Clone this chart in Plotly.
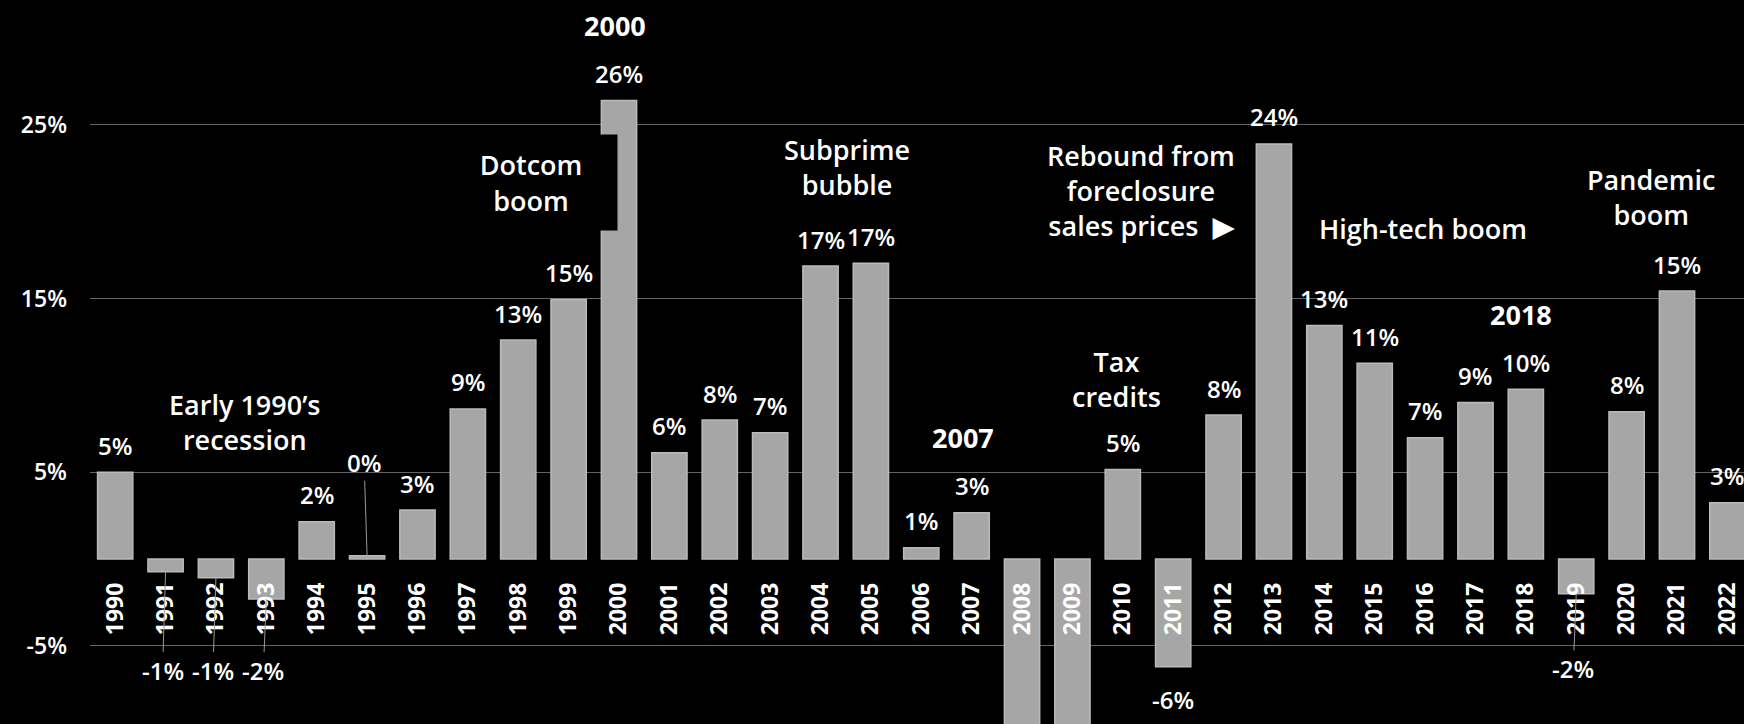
import plotly.graph_objects as go

# Annual change in median home price, percent
years = list(range(1990, 2023))
change_pct = [5.0, -0.73, -1.08, -2.3, 2.15, 0.19, 2.82, 8.64, 12.61, 14.95,
              26.4, 6.12, 8.0, 7.27, 16.87, 17.03, 0.65, 2.67, -15.0, -19.0,
              5.16, -6.2, 8.29, 23.9, 13.45, 11.27, 6.99, 9.02, 9.77, -2.0,
              8.48, 15.43, 3.24]
year_labels = [str(y) for y in years]
y_tick_vals = [-5, 5, 15, 25]
y_tick_text = ["-5%", "5%", "15%", "25%"]

# Period notes: text, x (year), y (percent)
event_notes = [
    ("Early 1990\u2019s<br>recession", 1992.58, 7.89),
    ("Subprime<br>bubble", 2004.53, 22.59),
    ("Tax<br>credits", 2009.88, 10.37),
    ("Rebound from<br>foreclosure<br>sales prices\u00a0\u00a0\u25B6", 2010.36, 21.22),
    ("High-tech boom", 2015.95, 19.04),
    ("Pandemic<br>boom", 2020.49, 20.82),
]
dotcom_note = ("Dotcom<br>boom", 1998.256, 21.68)
titled_years = [2000, 2007, 2018]
title_xshift = {2000: -4, 2007: -9, 2018: -5}

# Value labels moved away from their bars, joined by a leader line
leader_label_y = {1991: -6.4, 1992: -6.4, 1993: -6.4, 2019: -6.3}
leader_label_px = {1995: (-3, -93)}

FONT = "Open Sans"
WHITE = "#ffffff"
BAR_FILL = "#a6a6a6"
BAR_EDGE = "#bababa"
GRID = "#646464"
LEADER = "#9a9a9a"

y_range = [-9.5, 32.19]
x_range = [1989.5, 2022.33]
axis_pos = (0 - y_range[0]) / (y_range[1] - y_range[0])

fig = go.Figure()
fig.add_trace(go.Bar(
    x=years, y=change_pct, width=0.7,
    marker=dict(color=BAR_FILL, line=dict(color=BAR_EDGE, width=1.5)),
    hoverinfo="x+y",
))

annotations = []
label_font = dict(family=FONT, size=24, color=WHITE, weight=600)
for yr, v in zip(years, change_pct):
    txt = f"{round(v):d}%"
    if yr in leader_label_y:
        annotations.append(dict(
            x=yr, y=v, xref="x", yref="y", text=txt, font=label_font,
            showarrow=True, arrowhead=0, arrowwidth=1, arrowcolor=LEADER,
            ax=-3, ay=leader_label_y[yr], ayref="y", standoff=0,
        ))
    elif yr in leader_label_px:
        ax, ay = leader_label_px[yr]
        annotations.append(dict(
            x=yr, y=v, xref="x", yref="y", text=txt, font=label_font,
            showarrow=True, arrowhead=0, arrowwidth=1, arrowcolor=LEADER,
            ax=ax, ay=ay, standoff=0,
        ))
    else:
        annotations.append(dict(
            x=yr, y=v, xref="x", yref="y", text=txt, font=label_font,
            showarrow=False, yanchor="middle",
            yshift=27 if v >= 0 else -33,
        ))

title_font = dict(family=FONT, size=27, color=WHITE, weight=700)
for yr in titled_years:
    v = change_pct[years.index(yr)]
    annotations.append(dict(
        x=yr, y=v, xref="x", yref="y", text=str(yr), font=title_font,
        showarrow=False, yanchor="middle", yshift=75, xshift=title_xshift[yr],
    ))

note_font = dict(family=FONT, size=27, color=WHITE, weight=600)
for text, nx, ny in event_notes:
    annotations.append(dict(
        x=nx, y=ny, xref="x", yref="y", text=text, font=note_font,
        showarrow=False, align="center", xanchor="center", yanchor="middle",
    ))

# The dotcom note sits on a black panel that overlaps the 2000 bar
annotations.append(dict(
    x=dotcom_note[1], y=dotcom_note[2], xref="x", yref="y",
    text=dotcom_note[0], font=note_font, showarrow=False,
    align="center", xanchor="center", yanchor="middle",
    bgcolor="#000000", width=172, height=95, borderpad=0,
))

fig.update_layout(
    width=1744, height=724,
    margin=dict(l=90, r=0, t=0, b=0, pad=0),
    paper_bgcolor="#000000", plot_bgcolor="#000000",
    showlegend=False,
    annotations=annotations,
    xaxis=dict(
        range=x_range, tickmode="array", tickvals=years, ticktext=year_labels,
        tickangle=-90, anchor="free", position=axis_pos,
        showgrid=False, zeroline=False, showline=False, ticks="",
        ticklabelstandoff=18,
        tickfont=dict(family=FONT, size=23, color=WHITE, weight=700),
    ),
    yaxis=dict(
        range=y_range, tickmode="array", tickvals=y_tick_vals, ticktext=y_tick_text,
        showgrid=True, gridcolor=GRID, gridwidth=1, zeroline=False, showline=False,
        ticks="", ticklabelstandoff=22,
        tickfont=dict(family=FONT, size=23, color=WHITE, weight=600),
    ),
)

fig.write_html("out.html")
